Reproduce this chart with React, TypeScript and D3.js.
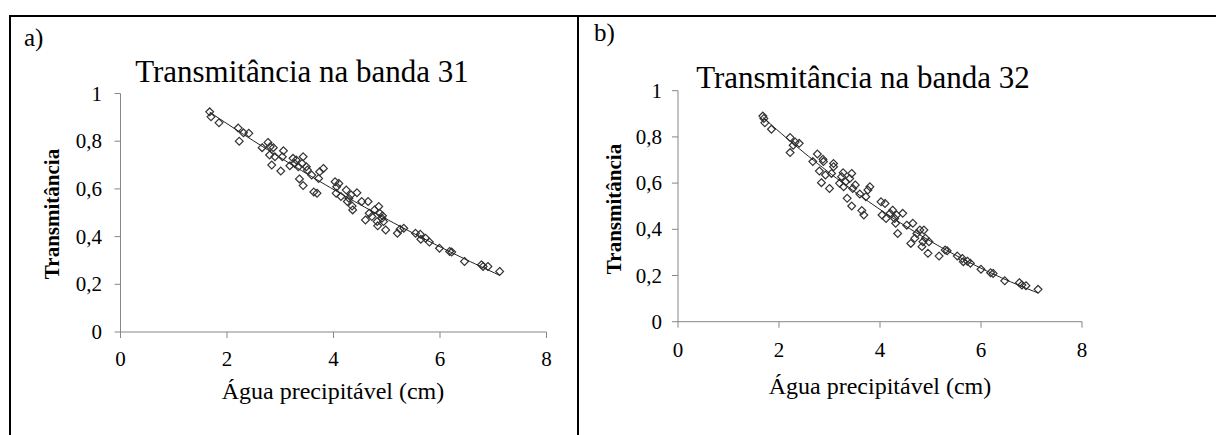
import React from "react";
import * as d3 from "d3";

// Panel a – banda 31
const xA = [1.675, 1.70, 1.85, 2.21, 2.23, 2.31, 2.41, 2.66, 2.77, 2.81, 2.87, 2.80, 2.84, 2.90, 3.01, 3.06, 3.04, 3.18, 3.24, 3.27, 3.30, 3.34, 3.36, 3.43, 3.43, 3.41, 3.49, 3.51, 3.59, 3.63, 3.69, 3.74, 3.81, 3.72, 4.03, 4.06, 4.10, 4.05, 4.14, 4.24, 4.26, 4.29, 4.33, 4.35, 4.36, 4.44, 4.53, 4.65, 4.60, 4.67, 4.72, 4.77, 4.82, 4.83, 4.85, 4.87, 4.91, 4.94, 4.98, 4.92, 5.20, 5.25, 5.32, 5.54, 5.63, 5.64, 5.73, 5.80, 5.99, 6.18, 6.22, 6.46, 6.78, 6.81, 6.90, 7.12];
const yA = [0.923, 0.902, 0.877, 0.855, 0.80, 0.835, 0.833, 0.773, 0.795, 0.777, 0.773, 0.742, 0.70, 0.735, 0.675, 0.76, 0.735, 0.697, 0.728, 0.707, 0.721, 0.693, 0.642, 0.735, 0.614, 0.707, 0.693, 0.679, 0.658, 0.587, 0.582, 0.672, 0.686, 0.644, 0.630, 0.609, 0.623, 0.582, 0.568, 0.595, 0.547, 0.561, 0.575, 0.528, 0.512, 0.584, 0.547, 0.547, 0.470, 0.498, 0.484, 0.512, 0.463, 0.445, 0.526, 0.498, 0.477, 0.463, 0.428, 0.487, 0.414, 0.431, 0.435, 0.414, 0.410, 0.389, 0.393, 0.377, 0.351, 0.338, 0.335, 0.296, 0.282, 0.275, 0.275, 0.254];

// Panel b – banda 32
const xB = [1.68, 1.70, 1.72, 1.85, 2.22, 2.22, 2.28, 2.32, 2.40, 2.67, 2.76, 2.80, 2.84, 2.87, 2.88, 2.92, 3.00, 3.04, 3.08, 3.08, 3.20, 3.24, 3.27, 3.28, 3.32, 3.35, 3.40, 3.44, 3.44, 3.46, 3.51, 3.60, 3.64, 3.68, 3.72, 3.76, 3.80, 4.02, 4.04, 4.10, 4.12, 4.20, 4.25, 4.29, 4.31, 4.33, 4.35, 4.45, 4.53, 4.61, 4.65, 4.69, 4.73, 4.79, 4.83, 4.85, 4.87, 4.90, 4.95, 4.97, 5.17, 5.29, 5.33, 5.53, 5.63, 5.65, 5.73, 5.79, 6.00, 6.19, 6.24, 6.47, 6.76, 6.81, 6.89, 7.13];
const yB = [0.890, 0.880, 0.861, 0.833, 0.797, 0.732, 0.764, 0.778, 0.772, 0.693, 0.726, 0.652, 0.602, 0.703, 0.693, 0.635, 0.577, 0.642, 0.685, 0.671, 0.599, 0.628, 0.645, 0.584, 0.606, 0.534, 0.620, 0.642, 0.501, 0.577, 0.592, 0.553, 0.481, 0.462, 0.541, 0.570, 0.584, 0.519, 0.462, 0.512, 0.447, 0.469, 0.483, 0.447, 0.426, 0.462, 0.382, 0.469, 0.418, 0.339, 0.426, 0.361, 0.382, 0.397, 0.325, 0.346, 0.397, 0.361, 0.296, 0.346, 0.284, 0.310, 0.307, 0.284, 0.274, 0.260, 0.262, 0.253, 0.227, 0.212, 0.209, 0.177, 0.169, 0.159, 0.156, 0.140];

const xTicks = [0, 2, 4, 6, 8];
const yTicks = [0, 0.2, 0.4, 0.6, 0.8, 1];
const titles = ["Transmitância na banda 31", "Transmitância na banda 32"];
const panelLabels = ["a)", "b)"];
const xLabel = "Água precipitável (cm)";
const yLabel = "Transmitância";

const FONT = "'Liberation Serif', 'Times New Roman', serif";

function quadFit(xs: number[], ys: number[]) {
  // least squares y = a + b x + c x^2
  let n = xs.length, s1 = 0, s2 = 0, s3 = 0, s4 = 0, t0 = 0, t1 = 0, t2 = 0;
  for (let i = 0; i < n; i++) {
    const x = xs[i], y = ys[i];
    s1 += x; s2 += x * x; s3 += x * x * x; s4 += x * x * x * x;
    t0 += y; t1 += x * y; t2 += x * x * y;
  }
  const M = [[n, s1, s2, t0], [s1, s2, s3, t1], [s2, s3, s4, t2]];
  for (let i = 0; i < 3; i++) {
    for (let j = i + 1; j < 3; j++) {
      const f = M[j][i] / M[i][i];
      for (let k = i; k < 4; k++) M[j][k] -= f * M[i][k];
    }
  }
  const c = M[2][3] / M[2][2];
  const b = (M[1][3] - M[1][2] * c) / M[1][1];
  const a = (M[0][3] - M[0][1] * b - M[0][2] * c) / M[0][0];
  return (x: number) => a + b * x + c * x * x;
}

const fmtY = (d: number) => (d === 0 ? "0" : d === 1 ? "1" : d.toFixed(1).replace(".", ","));

type PanelProps = {
  xs: number[]; ys: number[];
  x0: number; x1: number; y0: number; y1: number;
  title: string; titleX: number; titleY: number;
  label: string; labelX: number; labelY: number;
  xTickY: number; yTickX: number;
  xLabX: number; xLabY: number;
  yLabX: number; yLabY: number;
};

function Panel(p: PanelProps) {
  const x = d3.scaleLinear().domain([0, 8]).range([p.x0, p.x1]);
  const y = d3.scaleLinear().domain([0, 1]).range([p.y0, p.y1]);
  const f = quadFit(p.xs, p.ys);
  const ext = d3.extent(p.xs) as [number, number];
  const linePts = d3.range(0, 61).map((i) => ext[0] + (ext[1] - ext[0]) * i / 60);
  const line = d3.line<number>().x((d) => x(d)).y((d) => y(f(d)));
  const diamond = (cx: number, cy: number, r: number) =>
    `M${cx},${cy - r}L${cx + r},${cy}L${cx},${cy + r}L${cx - r},${cy}Z`;
  const axisColor = "#878787";
  return (
    <g fontFamily={FONT}>
      <text x={p.labelX} y={p.labelY} fontSize={25}>{p.label}</text>
      <text x={p.titleX} y={p.titleY} fontSize={31} textAnchor="middle">{p.title}</text>
      {/* axes */}
      <line x1={x(0)} x2={x(0)} y1={y(0)} y2={y(1)} stroke={axisColor} strokeWidth={1} />
      <line x1={x(0)} x2={x(8)} y1={y(0)} y2={y(0)} stroke={axisColor} strokeWidth={1} />
      {yTicks.map((t) => (
        <g key={"y" + t}>
          <line x1={x(0) - 6} x2={x(0)} y1={y(t)} y2={y(t)} stroke={axisColor} />
          <text x={p.yTickX} y={y(t) + 7} fontSize={21} textAnchor="end">{fmtY(t)}</text>
        </g>
      ))}
      {xTicks.map((t) => (
        <g key={"x" + t}>
          <line x1={x(t)} x2={x(t)} y1={y(0)} y2={y(0) + 6} stroke={axisColor} />
          <text x={x(t)} y={p.xTickY} fontSize={21} textAnchor="middle">{t}</text>
        </g>
      ))}
      <text x={p.xLabX} y={p.xLabY} fontSize={24} textAnchor="middle">{xLabel}</text>
      <text transform={`translate(${p.yLabX},${p.yLabY}) rotate(-90)`} fontSize={21} fontWeight="bold" textAnchor="middle">{yLabel}</text>
      {/* points */}
      {p.xs.map((xv, i) => (
        <path key={i} d={diamond(x(xv), y(p.ys[i]), 3.9)} fill="none" stroke="#333" strokeWidth={1.2} />
      ))}
      <path d={line(linePts) || ""} fill="none" stroke="#222" strokeWidth={1} />
    </g>
  );
}

export default function App() {
  return (
    <svg width={1216} height={435} style={{ position: "absolute", left: 0, top: 0, background: "#fff" }}>
      <rect x={0} y={0} width={1216} height={435} fill="#fff" />
      {/* table borders */}
      <line x1={9} x2={1216} y1={16} y2={16} stroke="#000" strokeWidth={2} />
      <line x1={10} x2={10} y1={15} y2={435} stroke="#000" strokeWidth={2} />
      <line x1={578} x2={578} y1={15} y2={435} stroke="#000" strokeWidth={2} />
      <Panel xs={xA} ys={yA} x0={120.5} x1={546.5} y0={332} y1={93.5}
        title={titles[0]} titleX={302} titleY={82}
        label={panelLabels[0]} labelX={24} labelY={46}
        xTickY={366} yTickX={102}
        xLabX={333} xLabY={399} yLabX={59} yLabY={214} />
      <Panel xs={xB} ys={yB} x0={678} x1={1082} y0={321.7} y1={90.7}
        title={titles[1]} titleX={863} titleY={88}
        label={panelLabels[1]} labelX={594} labelY={41}
        xTickY={357} yTickX={662}
        xLabX={880} xLabY={394} yLabX={621} yLabY={209} />
    </svg>
  );
}
